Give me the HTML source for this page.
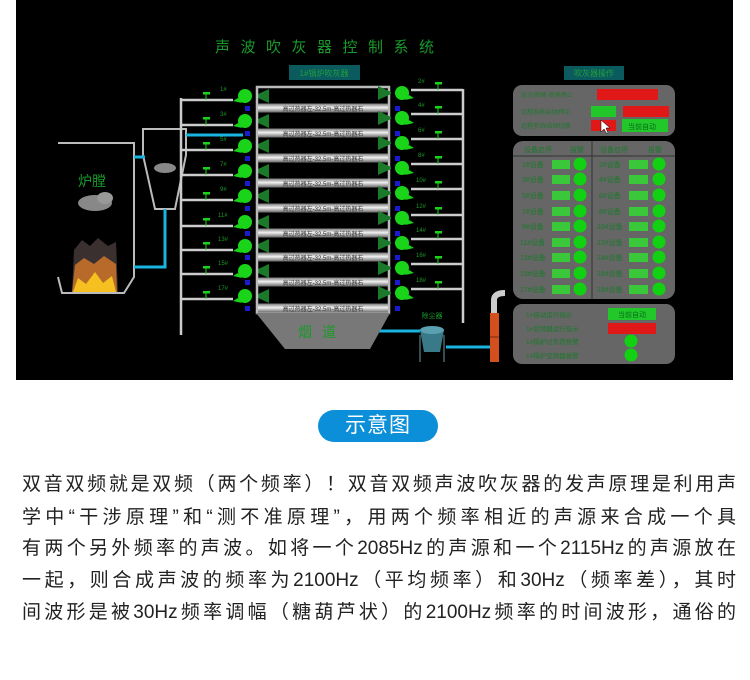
<!DOCTYPE html>
<html><head><meta charset="utf-8"><style>
body{margin:0;width:750px;height:680px;background:#fff;overflow:hidden;font-family:"Liberation Sans","Noto Sans CJK SC",sans-serif;}
svg{position:absolute;left:0;top:0}
.btn{position:absolute;left:318px;top:410px;width:120px;height:32px;border-radius:16px;background:#0a8fd8;color:#fff;font-size:21px;line-height:32px;text-align:center;letter-spacing:1px}
.txt{position:absolute;left:22px;width:714px;font-size:19px;color:#222;height:26px;line-height:26px;text-align:justify;text-align-last:justify;white-space:nowrap}
</style></head><body>
<svg width="750" height="400" viewBox="0 0 750 400" font-family="Liberation Sans,Noto Sans CJK SC,sans-serif">
<defs>
<linearGradient id="tb" x1="0" y1="0" x2="0" y2="1"><stop offset="0" stop-color="#777"/><stop offset=".45" stop-color="#f2f2f2"/><stop offset="1" stop-color="#666"/></linearGradient>
<g id="fanL"><circle cx="0" cy="0" r="7" fill="#1ad41a"/><path d="M-7,2 L-12,5 L-3,7Z" fill="#1ad41a"/><path d="M11,-1 L24,-7 L24,7 L11,1Z" fill="#1a7a2a"/></g>
<g id="fanR"><circle cx="0" cy="0" r="7" fill="#1ad41a"/><path d="M7,2 L12,5 L3,7Z" fill="#1ad41a"/><path d="M-11,-1 L-24,-7 L-24,7 L-11,1Z" fill="#1a7a2a"/></g>
<g id="tube"><rect x="0" y="-4.5" width="130" height="9" fill="url(#tb)"/><text x="65" y="3" font-size="6" fill="#333" text-anchor="middle">高过热器左-32.5m-高过热器右</text></g>
<g id="brL"><line x1="0" y1="0" x2="52" y2="0" stroke="#ccc" stroke-width="2.5"/><rect x="22" y="-8" width="7" height="2.5" fill="#1ad41a"/><line x1="25" y1="-6" x2="25" y2="0" stroke="#1ad41a" stroke-width="1"/></g>
<g id="brR"><line x1="0" y1="0" x2="52" y2="0" stroke="#ccc" stroke-width="2.5"/><rect x="24" y="-8" width="7" height="2.5" fill="#1ad41a"/><line x1="27" y1="-6" x2="27" y2="0" stroke="#1ad41a" stroke-width="1"/></g>
</defs>
<rect x="16" y="0" width="717" height="380" fill="#000"/>
<text x="215" y="52" font-size="15" fill="#1a9a2a" letter-spacing="10.5">声波吹灰器控制系统</text>
<rect x="289" y="65" width="71" height="15" fill="#0b5a5e"/><text x="324" y="76" font-size="8" fill="#1fa03a" text-anchor="middle">1#锅炉吹灰器</text>
<rect x="564" y="66" width="60" height="14" fill="#0b5a5e"/><text x="594" y="76" font-size="8" fill="#1fa03a" text-anchor="middle">吹灰器操作</text>
<!-- furnace -->
<path d="M58,143 L134,143 L134,277 L124,293 L62,293 L58,277" fill="none" stroke="#bbb" stroke-width="2"/>
<text x="78" y="186" font-size="14" fill="#1a9a2a">炉膛</text>
<ellipse cx="95" cy="203" rx="17" ry="8" fill="#888"/><ellipse cx="105" cy="198" rx="8" ry="6" fill="#999"/>
<path d="M72,292 L74,250 L82,240 L90,246 L98,238 L108,246 L116,242 L118,292Z" fill="#3a3030"/>
<path d="M72,292 L75,265 L84,258 L94,264 L104,256 L116,264 L117,292Z" fill="#b86a2a"/>
<path d="M73,292 L78,278 L86,284 L95,272 L103,283 L112,276 L116,292Z" fill="#f5c020"/>
<!-- cyclone -->
<path d="M143,129 L186,129 L186,155 L175,209 L155,209 L143,155Z" fill="none" stroke="#bbb" stroke-width="2"/>
<ellipse cx="165" cy="168" rx="11" ry="5" fill="#888"/>
<g stroke="#1ab4e0" stroke-width="3" fill="none"><path d="M134,157 H145"/><path d="M165,209 V267 H134"/><path d="M186,135 H243"/><path d="M377,331 H420"/><path d="M446,347 H490"/></g>
<!-- left pipe -->
<line x1="181" y1="98" x2="181" y2="335" stroke="#ccc" stroke-width="2.5"/>
<use href="#brL" x="181" y="100"/><use href="#brL" x="181" y="125"/><use href="#brL" x="181" y="150"/><use href="#brL" x="181" y="175"/><use href="#brL" x="181" y="200"/><use href="#brL" x="181" y="226"/><use href="#brL" x="181" y="250"/><use href="#brL" x="181" y="274"/><use href="#brL" x="181" y="299"/>
<g font-size="6" fill="#1a9a2a"><text x="220" y="91">1#</text><text x="220" y="116">3#</text><text x="220" y="141">5#</text><text x="220" y="166">7#</text><text x="220" y="191">9#</text><text x="218" y="217">11#</text><text x="218" y="241">13#</text><text x="218" y="265">15#</text><text x="218" y="290">17#</text></g>
<use href="#fanL" x="245" y="96"/><use href="#fanL" x="245" y="121"/><use href="#fanL" x="245" y="146"/><use href="#fanL" x="245" y="171"/><use href="#fanL" x="245" y="196"/><use href="#fanL" x="245" y="222"/><use href="#fanL" x="245" y="246"/><use href="#fanL" x="245" y="271"/><use href="#fanL" x="245" y="296"/>
<!-- stack -->
<rect x="257" y="87" width="132" height="226" fill="none" stroke="#bbb" stroke-width="2.5"/>
<use href="#tube" x="258" y="108"/><use href="#tube" x="258" y="133"/><use href="#tube" x="258" y="158"/><use href="#tube" x="258" y="183"/><use href="#tube" x="258" y="208"/><use href="#tube" x="258" y="233"/><use href="#tube" x="258" y="257"/><use href="#tube" x="258" y="282"/><use href="#tube" x="258" y="308"/>
<g fill="#1a1ad0"><rect x="245" y="106" width="5" height="5"/><rect x="245" y="131" width="5" height="5"/><rect x="245" y="156" width="5" height="5"/><rect x="245" y="181" width="5" height="5"/><rect x="245" y="206" width="5" height="5"/><rect x="245" y="231" width="5" height="5"/><rect x="245" y="255" width="5" height="5"/><rect x="245" y="280" width="5" height="5"/><rect x="245" y="306" width="5" height="5"/>
<rect x="395" y="106" width="5" height="5"/><rect x="395" y="131" width="5" height="5"/><rect x="395" y="156" width="5" height="5"/><rect x="395" y="181" width="5" height="5"/><rect x="395" y="206" width="5" height="5"/><rect x="395" y="231" width="5" height="5"/><rect x="395" y="255" width="5" height="5"/><rect x="395" y="280" width="5" height="5"/><rect x="395" y="306" width="5" height="5"/></g>
<path d="M256,313 L390,313 L370,349 L285,349Z" fill="#787878"/>
<text x="322" y="337" font-size="14" fill="#1a9a2a" text-anchor="middle" letter-spacing="10">烟道</text>
<!-- right -->
<use href="#fanR" x="402" y="93"/><use href="#fanR" x="402" y="118"/><use href="#fanR" x="402" y="143"/><use href="#fanR" x="402" y="168"/><use href="#fanR" x="402" y="193"/><use href="#fanR" x="402" y="218"/><use href="#fanR" x="402" y="243"/><use href="#fanR" x="402" y="268"/><use href="#fanR" x="402" y="293"/>
<use href="#brR" x="411" y="90"/><use href="#brR" x="411" y="114"/><use href="#brR" x="411" y="139"/><use href="#brR" x="411" y="164"/><use href="#brR" x="411" y="189"/><use href="#brR" x="411" y="215"/><use href="#brR" x="411" y="239"/><use href="#brR" x="411" y="264"/><use href="#brR" x="411" y="289"/>
<line x1="463" y1="89" x2="463" y2="323" stroke="#ccc" stroke-width="2.5"/>
<g font-size="6" fill="#1a9a2a"><text x="418" y="83">2#</text><text x="418" y="107">4#</text><text x="418" y="132">6#</text><text x="418" y="157">8#</text><text x="416" y="182">10#</text><text x="416" y="208">12#</text><text x="416" y="232">14#</text><text x="416" y="257">16#</text><text x="416" y="282">18#</text></g>
<text x="432" y="318" font-size="7" fill="#1a9a2a" text-anchor="middle">除尘器</text>
<path d="M420,330 L444,330 L440,352 L424,352Z" fill="#3a7a88"/><ellipse cx="432" cy="330" rx="12" ry="4" fill="#5aa0b0"/>
<line x1="420" y1="335" x2="420" y2="362" stroke="#6a9aa0"/><line x1="444" y1="335" x2="444" y2="362" stroke="#6a9aa0"/>
<rect x="490" y="313" width="9" height="49" fill="#d2501e"/><line x1="490" y1="337" x2="499" y2="337" stroke="#7a2a10"/>
<path d="M494,313 L494,300 Q494,293 505,293" fill="none" stroke="#ccc" stroke-width="6"/>
<!-- right panel -->
<rect x="513" y="85" width="162" height="51" rx="9" fill="#666"/>
<rect x="513" y="141" width="162" height="158" rx="10" fill="#666"/>
<rect x="513" y="304" width="162" height="60" rx="9" fill="#666"/>
<g font-size="6" fill="#1a7a2a"><text x="521" y="97">远方/就地·就地停止</text><text x="521" y="114">远程系统启动/停止</text><text x="521" y="128">远程手动/自动切换</text></g>
<rect x="597" y="89" width="61" height="11" fill="#e01818"/><rect x="591" y="106" width="25" height="11" fill="#22c82a"/><rect x="623" y="106" width="46" height="11" fill="#e01818"/><rect x="591" y="120" width="25" height="11" fill="#e01818"/><rect x="622" y="119" width="46" height="13" fill="#22c82a"/>
<g font-size="7" fill="#0a6a1a"><text x="628" y="129">当前自动</text></g>
<path d="M601,120 L601,132 L604,129 L607,134 L608,133 L606,128 L610,128Z" fill="#fff" stroke="#000" stroke-width=".5"/>
<line x1="513" y1="156" x2="675" y2="156" stroke="#333"/><line x1="592" y1="141" x2="592" y2="299" stroke="#333"/>
<g font-size="7" fill="#1a7a2a"><text x="524" y="152">设备启停</text><text x="570" y="152">报警</text><text x="600" y="152">设备启停</text><text x="648" y="152">报警</text>
<text x="522" y="167">1#设备</text><text x="522" y="182">3#设备</text><text x="522" y="198">5#设备</text><text x="522" y="214">7#设备</text><text x="522" y="229">9#设备</text><text x="520" y="245">11#设备</text><text x="520" y="260">13#设备</text><text x="520" y="276">15#设备</text><text x="520" y="292">17#设备</text>
<text x="599" y="167">2#设备</text><text x="599" y="182">4#设备</text><text x="599" y="198">6#设备</text><text x="599" y="214">8#设备</text><text x="597" y="229">10#设备</text><text x="597" y="245">12#设备</text><text x="597" y="260">14#设备</text><text x="597" y="276">16#设备</text><text x="597" y="292">18#设备</text></g>
<g fill="#3ac83a"><rect x="552" y="160" width="18" height="9"/><rect x="552" y="175" width="18" height="9"/><rect x="552" y="191" width="18" height="9"/><rect x="552" y="207" width="18" height="9"/><rect x="552" y="222" width="18" height="9"/><rect x="552" y="238" width="18" height="9"/><rect x="552" y="253" width="18" height="9"/><rect x="552" y="269" width="18" height="9"/><rect x="552" y="285" width="18" height="9"/>
<rect x="629" y="160" width="19" height="9"/><rect x="629" y="175" width="19" height="9"/><rect x="629" y="191" width="19" height="9"/><rect x="629" y="207" width="19" height="9"/><rect x="629" y="222" width="19" height="9"/><rect x="629" y="238" width="19" height="9"/><rect x="629" y="253" width="19" height="9"/><rect x="629" y="269" width="19" height="9"/><rect x="629" y="285" width="19" height="9"/></g>
<g fill="#12d012"><circle cx="580" cy="164" r="6.5"/><circle cx="580" cy="179" r="6.5"/><circle cx="580" cy="195" r="6.5"/><circle cx="580" cy="211" r="6.5"/><circle cx="580" cy="226" r="6.5"/><circle cx="580" cy="242" r="6.5"/><circle cx="580" cy="257" r="6.5"/><circle cx="580" cy="273" r="6.5"/><circle cx="580" cy="289" r="6.5"/>
<circle cx="659" cy="164" r="6.5"/><circle cx="659" cy="179" r="6.5"/><circle cx="659" cy="195" r="6.5"/><circle cx="659" cy="211" r="6.5"/><circle cx="659" cy="226" r="6.5"/><circle cx="659" cy="242" r="6.5"/><circle cx="659" cy="257" r="6.5"/><circle cx="659" cy="273" r="6.5"/><circle cx="659" cy="289" r="6.5"/>
<circle cx="631" cy="341" r="6.5"/><circle cx="631" cy="355" r="6.5"/></g>
<g font-size="6.5" fill="#1a7a2a"><text x="526" y="317">1#自动运行指示</text><text x="526" y="331">1#变频器运行指示</text><text x="526" y="344">1#锅炉过负荷报警</text><text x="526" y="358">1#锅炉变频器报警</text></g>
<rect x="608" y="308" width="48" height="12" fill="#22c82a"/><rect x="608" y="323" width="48" height="11" fill="#e01818"/>
<text x="632" y="317" font-size="7" fill="#0a6a1a" text-anchor="middle">当前自动</text>
</svg>
<div class="btn">示意图</div>
<div class="txt" style="top:472px">双音双频就是双频（两个频率）！双音双频声波吹灰器的发声原理是利用声</div>
<div class="txt" style="top:505px">学中“干涉原理”和“测不准原理”，用两个频率相近的声源来合成一个具</div>
<div class="txt" style="top:536px">有两个另外频率的声波。如将一个2085Hz的声源和一个2115Hz的声源放在</div>
<div class="txt" style="top:568px">一起，则合成声波的频率为2100Hz（平均频率）和30Hz（频率差），其时</div>
<div class="txt" style="top:600px">间波形是被30Hz频率调幅（糖葫芦状）的2100Hz频率的时间波形，通俗的</div>
</body></html>
